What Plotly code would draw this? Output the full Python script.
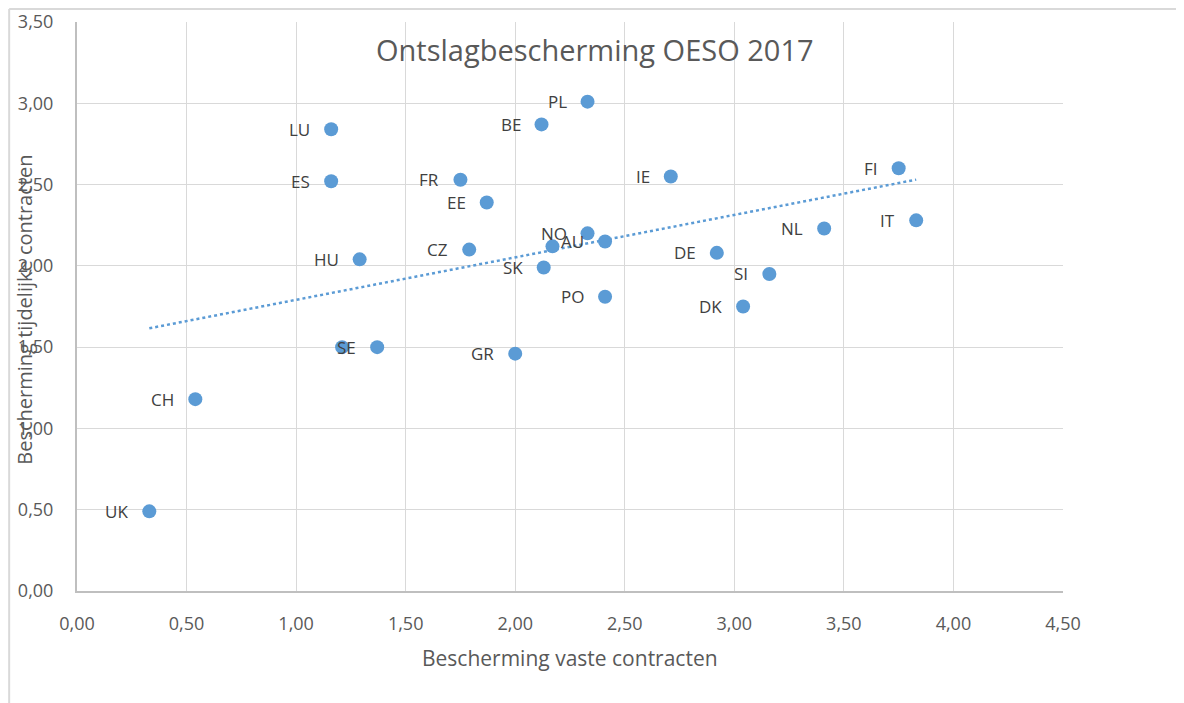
import numpy as np
import plotly.graph_objects as go

# ---- data ----
countries = ["UK", "CH", "", "SE", "HU", "LU", "ES", "FR", "EE", "CZ", "BE", "PL", "",
             "NO", "AU", "SK", "PO", "GR", "IE", "DE", "SI", "DK", "NL", "FI", "IT"]
vast = [0.33, 0.54, 1.21, 1.37, 1.29, 1.16, 1.16, 1.75, 1.87, 1.79, 2.12, 2.33, 2.17,
        2.33, 2.41, 2.13, 2.41, 2.00, 2.71, 2.92, 3.16, 3.04, 3.41, 3.75, 3.83]
tijdelijk = [0.49, 1.18, 1.50, 1.50, 2.04, 2.84, 2.52, 2.53, 2.39, 2.10, 2.87, 3.01, 2.12,
             2.20, 2.15, 1.99, 1.81, 1.46, 2.55, 2.08, 1.95, 1.75, 2.23, 2.60, 2.28]
x_ticks = [0, 0.5, 1.0, 1.5, 2.0, 2.5, 3.0, 3.5, 4.0, 4.5]
y_ticks = [0, 0.5, 1.0, 1.5, 2.0, 2.5, 3.0, 3.5]
title_text = "Ontslagbescherming OESO 2017"
x_title = "Bescherming vaste contracten"
y_title = "Bescherming tijdelijke contracten"

def fmt(v):
    return f"{v:.2f}".replace(".", ",")

BLUE = "#5b9bd5"
FONT = "Open Sans"

fig = go.Figure()

# linear trendline (least squares)
xa = np.array(vast)
ya = np.array(tijdelijk)
slope, intercept = np.polyfit(xa, ya, 1)
tx = np.array([xa.min(), xa.max()])
fig.add_trace(go.Scatter(x=tx, y=slope * tx + intercept, mode="lines",
                         line=dict(color=BLUE, width=2.5, dash="dot"),
                         hoverinfo="skip", showlegend=False))

fig.add_trace(go.Scatter(x=vast, y=tijdelijk, mode="markers",
                         marker=dict(color=BLUE, size=14),
                         text=countries, showlegend=False))

for c, xv, yv in zip(countries, vast, tijdelijk):
    if c:
        fig.add_annotation(x=xv, y=yv, text=c, showarrow=False, xanchor="right",
                           yanchor="middle", xshift=-19,
                           font=dict(family=FONT, size=17, color="#404040"))

# title
fig.add_annotation(xref="paper", yref="paper", x=0.525, y=0.951, text=title_text,
                   showarrow=False, xanchor="center", yanchor="middle",
                   font=dict(family=FONT, size=29, color="#595959"))
# axis titles
fig.add_annotation(xref="paper", yref="paper", x=0.5, y=-0.118, text=x_title,
                   showarrow=False, xanchor="center", yanchor="middle",
                   font=dict(family=FONT, size=21, color="#595959"))
fig.add_annotation(xref="paper", yref="paper", x=-0.053, y=0.494, text=y_title,
                   showarrow=False, xanchor="center", yanchor="middle", textangle=-90,
                   font=dict(family=FONT, size=20, color="#595959"))

# outer chart border (top and left)
fig.add_shape(type="line", xref="paper", yref="paper", x0=-0.0688, x1=1.13,
              y0=1.0228, y1=1.0228, line=dict(color="#d9d9d9", width=2), layer="below")
fig.add_shape(type="line", xref="paper", yref="paper", x0=-0.0688, x1=-0.0688,
              y0=1.0228, y1=-0.21, line=dict(color="#d9d9d9", width=2), layer="below")

fig.update_xaxes(range=[0, 4.5], tickvals=x_ticks, ticktext=[fmt(v) for v in x_ticks],
                 showgrid=True, gridcolor="#d9d9d9", gridwidth=1,
                 showline=True, linecolor="#bfbfbf", linewidth=2,
                 ticks="outside", ticklen=15, tickcolor="rgba(0,0,0,0)",
                 zeroline=False,
                 tickfont=dict(family=FONT, size=18, color="#595959"))
fig.update_yaxes(range=[0, 3.5], tickvals=y_ticks, ticktext=[fmt(v) for v in y_ticks],
                 showgrid=True, gridcolor="#d9d9d9", gridwidth=1,
                 showline=True, linecolor="#bfbfbf", linewidth=2,
                 ticks="outside", ticklen=18, tickcolor="rgba(0,0,0,0)",
                 zeroline=False,
                 tickfont=dict(family=FONT, size=18, color="#595959"))

fig.update_layout(width=1176, height=695,
                  margin=dict(l=69, r=121, t=14, b=112, autoexpand=False),
                  plot_bgcolor="white", paper_bgcolor="white",
                  showlegend=False, font=dict(family=FONT))

fig.write_html("out.html")
